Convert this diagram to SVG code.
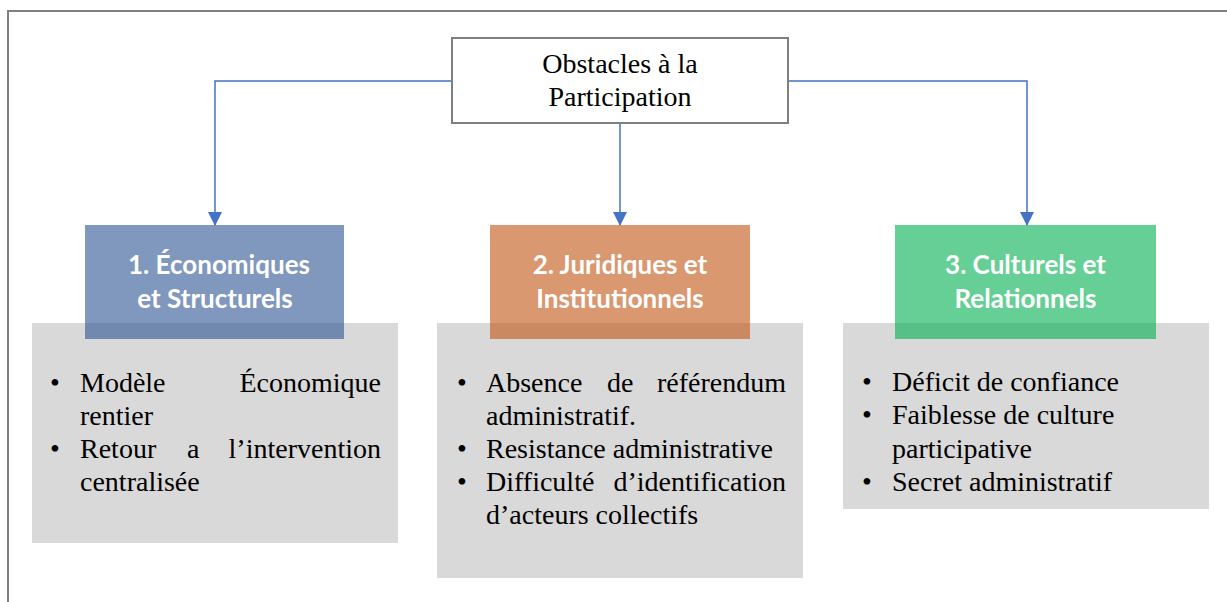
<svg xmlns="http://www.w3.org/2000/svg" width="1227" height="602" viewBox="0 0 1227 602">
  <style>
    .frame { fill: none; stroke: #808080; stroke-width: 2; }
    .root { fill: #ffffff; stroke: #7f7f7f; stroke-width: 2; }
    .rootText { font-family: "Liberation Serif", "Times New Roman", serif; font-size: 28px; fill: #000000; text-anchor: middle; }
    .list { fill: #d9d9d9; }
    .head { fill-opacity: 0.6; }
    .headText { font-family: Lato, "Open Sans", sans-serif; font-weight: bold; font-size: 26px; fill: #ffffff; text-anchor: middle; }
    .body { font-family: "Liberation Serif", "Times New Roman", serif; font-size: 28px; fill: #000000; }
    .end { text-anchor: end; }
    .conn { fill: none; stroke: #4472c4; stroke-width: 1.5; }
  </style>
  <defs>
    <marker id="arrow" markerUnits="userSpaceOnUse" markerWidth="14" markerHeight="14" refX="13" refY="7" orient="auto" viewBox="0 0 14 14">
      <path d="M0,0 L14,7 L0,14 Z" fill="#4472c4"/>
    </marker>
  </defs>
  <rect width="1227" height="602" fill="#ffffff"/>
  <path class="frame" d="M8,602 V11 H1227"/>

  <g id="connectors">
    <path class="conn" d="M452,81 H215 V225" marker-end="url(#arrow)"/>
    <path class="conn" d="M620,124 V225" marker-end="url(#arrow)"/>
    <path class="conn" d="M788,81 H1027 V225" marker-end="url(#arrow)"/>
  </g>

  <g id="root">
    <rect class="root" x="452" y="38" width="336" height="85"/>
    <text class="rootText" x="620" y="73">Obstacles à la</text>
    <text class="rootText" x="620" y="106">Participation</text>
  </g>

  <g id="list1">
    <rect class="list" x="32" y="323" width="366" height="220"/>
    <text class="body" x="50" y="392">•</text>
    <text class="body" x="80" y="392">Modèle</text>
    <text class="body end" x="381" y="392">Économique</text>
    <text class="body" x="80" y="425">rentier</text>
    <text class="body" x="50" y="458">•</text>
    <text class="body" x="80" y="458">Retour</text>
    <text class="body" x="187" y="458">a</text>
    <text class="body end" x="381" y="458">l’intervention</text>
    <text class="body" x="80" y="491">centralisée</text>
  </g>
  <g id="cat1">
    <rect class="head" x="85" y="225" width="259" height="114" fill="#2b5293"/>
    <text class="headText" x="219" y="274">1. Économiques</text>
    <text class="headText" x="215" y="308">et Structurels</text>
  </g>

  <g id="list2">
    <rect class="list" x="437" y="323" width="366" height="255"/>
    <text class="body" x="457" y="392">•</text>
    <text class="body" x="486" y="392">Absence</text>
    <text class="body" x="607" y="392">de</text>
    <text class="body end" x="786" y="392">référendum</text>
    <text class="body" x="486" y="425">administratif.</text>
    <text class="body" x="457" y="458">•</text>
    <text class="body" x="486" y="458">Resistance administrative</text>
    <text class="body" x="457" y="491">•</text>
    <text class="body" x="486" y="491">Difficulté</text>
    <text class="body end" x="786" y="491">d’identification</text>
    <text class="body" x="486" y="524">d’acteurs collectifs</text>
  </g>
  <g id="cat2">
    <rect class="head" x="490" y="225" width="260" height="114" fill="#c05311"/>
    <text class="headText" x="620" y="274">2. Juridiques et</text>
    <text class="headText" x="620" y="308">Institutionnels</text>
  </g>

  <g id="list3">
    <rect class="list" x="843" y="323" width="366" height="186"/>
    <text class="body" x="862" y="391">•</text>
    <text class="body" x="892" y="391">Déficit de confiance</text>
    <text class="body" x="862" y="424">•</text>
    <text class="body" x="892" y="424">Faiblesse de culture</text>
    <text class="body" x="892" y="458">participative</text>
    <text class="body" x="862" y="491">•</text>
    <text class="body" x="892" y="491">Secret administratif</text>
  </g>
  <g id="cat3">
    <rect class="head" x="895" y="225" width="261" height="114" fill="#00af4e"/>
    <text class="headText" x="1025.5" y="274">3. Culturels et</text>
    <text class="headText" x="1025.5" y="308">Relationnels</text>
  </g>
</svg>
